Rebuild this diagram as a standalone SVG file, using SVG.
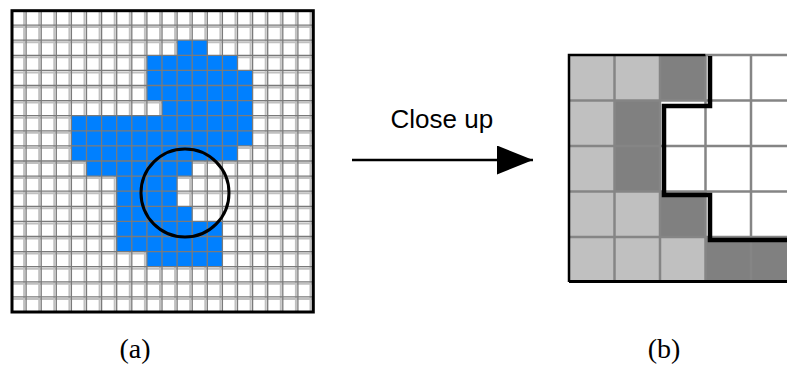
<svg xmlns="http://www.w3.org/2000/svg" width="787" height="372" viewBox="0 0 787 372">
<style>
.lgrid{fill:none;stroke:#c0c0c0;stroke-width:2}
.dgrid{fill:none;stroke:#7a7a7a;stroke-width:1.3}
.blue{fill:#0080ff}
.lc{fill:#c0c0c0}
.dc{fill:#808080}
.wc{fill:#ffffff}
.rgrid{fill:none;stroke:#858585;stroke-width:2.5}
.border{fill:none;stroke:#000;stroke-width:3}
.lbl{font-family:"Liberation Serif","Times New Roman",serif;font-size:28px;fill:#000;text-anchor:middle}
.cap{font-family:"Liberation Sans",Arial,sans-serif;font-size:26px;fill:#000}
</style>
<defs>
<marker id="head" markerUnits="userSpaceOnUse" viewBox="0 0 36 29" refX="36" refY="14.5" markerWidth="36" markerHeight="29" orient="auto">
<path d="M0,0 L36,14.5 L0,29 Z" fill="#000"/>
</marker>
</defs>
<rect width="787" height="372" fill="#fff"/>

<g id="grid-a">
<rect x="11" y="10" width="302" height="302" fill="#fff"/>
<path class="lgrid" d="M24.1,10V312M39.2,10V312M54.3,10V312M69.4,10V312M84.5,10V312M99.6,10V312M114.7,10V312M129.8,10V312M144.9,10V312M160,10V312M175.1,10V312M190.2,10V312M205.3,10V312M220.4,10V312M235.5,10V312M250.6,10V312M265.7,10V312M280.8,10V312M295.9,10V312M310.5,10V312
M11,27.1H313M11,42.2H313M11,57.3H313M11,72.4H313M11,87.5H313M11,102.6H313M11,117.7H313M11,132.8H313M11,147.9H313M11,163H313M11,178.1H313M11,193.2H313M11,208.3H313M11,223.4H313M11,238.5H313M11,253.6H313M11,268.7H313M11,283.8H313M11,298.9H313"/>
<g id="shape">
<rect class="blue" x="177.1" y="40.2" width="30.2" height="15.1"/>
<rect class="blue" x="146.9" y="55.3" width="90.6" height="15.1"/>
<rect class="blue" x="146.9" y="70.4" width="105.7" height="30.2"/>
<rect class="blue" x="162" y="100.6" width="90.6" height="15.1"/>
<rect class="blue" x="71.4" y="115.7" width="181.2" height="30.2"/>
<rect class="blue" x="71.4" y="145.9" width="166.1" height="15.1"/>
<rect class="blue" x="86.5" y="161" width="105.7" height="15.1"/>
<rect class="blue" x="116.7" y="176.1" width="60.4" height="30.2"/>
<rect class="blue" x="116.7" y="206.3" width="75.5" height="15.1"/>
<rect class="blue" x="116.7" y="221.4" width="105.7" height="30.2"/>
<rect class="blue" x="146.9" y="251.6" width="75.5" height="15.1"/>
</g>
<path class="dgrid" d="M26.1,10V312M41.2,10V312M56.3,10V312M71.4,10V312M86.5,10V312M101.6,10V312M116.7,10V312M131.8,10V312M146.9,10V312M162,10V312M177.1,10V312M192.2,10V312M207.3,10V312M222.4,10V312M237.5,10V312M252.6,10V312M267.7,10V312M282.8,10V312M297.9,10V312
M11,25.1H313M11,40.2H313M11,55.3H313M11,70.4H313M11,85.5H313M11,100.6H313M11,115.7H313M11,130.8H313M11,145.9H313M11,161H313M11,176.1H313M11,191.2H313M11,206.3H313M11,221.4H313M11,236.5H313M11,251.6H313M11,266.7H313M11,281.8H313M11,296.9H313"/>
<rect class="border" x="12" y="10.7" width="301.3" height="301.3"/>
<circle id="focus" cx="185" cy="193" r="44" fill="none" stroke="#000" stroke-width="3"/>
</g>

<g id="grid-b">
<rect class="lc" x="569" y="55" width="45.5" height="227.5"/>
<rect class="lc" x="614.5" y="55" width="45.5" height="45.5"/>
<rect class="dc" x="660" y="55" width="45.5" height="45.5"/>
<rect class="dc" x="614.5" y="100.5" width="45.5" height="91"/>
<rect class="lc" x="614.5" y="191.5" width="45.5" height="91"/>
<rect class="dc" x="660" y="191.5" width="45.5" height="45.5"/>
<rect class="lc" x="660" y="237" width="45.5" height="45.5"/>
<rect class="dc" x="705.5" y="237" width="91" height="45.5"/>
<path class="rgrid" d="M614.5,55V282M660,55V282M705.5,55V282M751,55V282M569,100.5H787M569,146H787M569,191.5H787M569,237H787M705.5,55H787"/>
<path fill="none" stroke="#000" stroke-width="2.5" d="M705.5,55H569V282"/>
<path fill="none" stroke="#000" stroke-width="3" d="M569,281.5H787"/>
<path id="contour" fill="none" stroke="#000" stroke-width="4.5" stroke-linejoin="miter" d="M710,56V106H664V195H710V240H787"/>
</g>

<g id="connectors">
<line x1="352" y1="160" x2="533" y2="160" stroke="#000" stroke-width="2.5" marker-end="url(#head)"/>
</g>
<g id="labels">
<text class="cap" x="390.5" y="128">Close up</text>
<text class="lbl" x="135" y="358">(a)</text>
<text class="lbl" x="664" y="358">(b)</text>
</g>
</svg>
